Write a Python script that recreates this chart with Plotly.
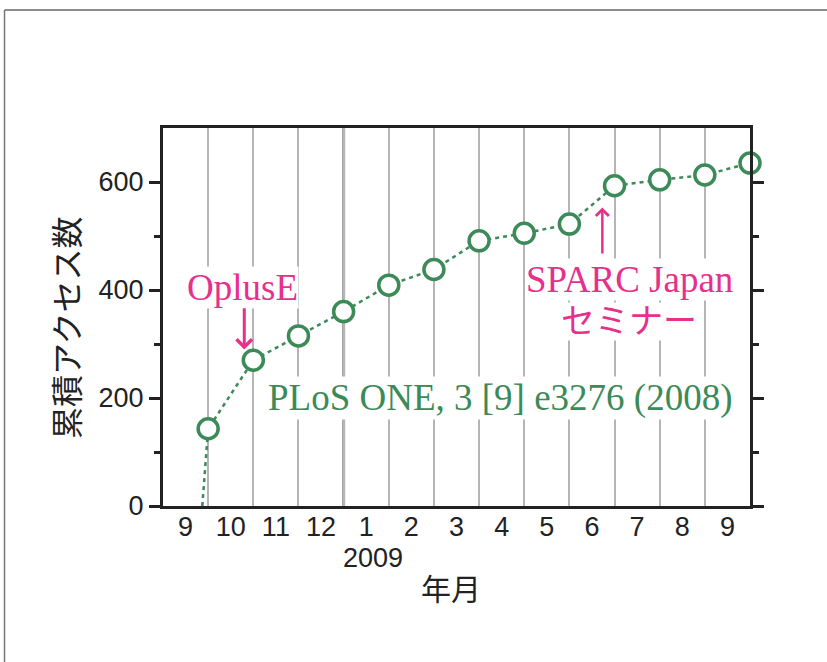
import plotly.graph_objects as go

# ---- data ----
month_labels = ["9", "10", "11", "12", "1", "2", "3", "4", "5", "6", "7", "8", "9"]
month_end_x = [1, 2, 3, 4, 5, 6, 7, 8, 9, 10, 11, 12, 13]
cumulative_access = [143, 270, 315, 360, 409, 438, 491, 505, 522, 593, 604, 613, 635]
release_x = 0.87
release_value = 0
year_label = "2009"
year_start_index = 4  # index of month "1" (January 2009)

GREEN = "#3b8a58"
PINK = "#e6308b"
DARK = "#222222"
SERIF = "Liberation Serif, Times New Roman, Noto Sans CJK JP, serif"
SANS = "Liberation Sans, Arial, Helvetica, sans-serif"
CJK = "Noto Sans CJK JP, sans-serif"

n_months = len(month_labels)
label_pos = [i + 0.5 for i in range(n_months)]
boundaries = list(range(1, n_months))

fig = go.Figure()

# dotted cumulative line (starts at publication)
fig.add_trace(go.Scatter(
    x=[release_x] + month_end_x,
    y=[release_value] + cumulative_access,
    mode="lines",
    line=dict(color=GREEN, width=2.5, dash="4px,4px"),
    hoverinfo="skip",
    showlegend=False,
))
# open circle markers
fig.add_trace(go.Scatter(
    x=month_end_x,
    y=cumulative_access,
    mode="markers",
    marker=dict(symbol="circle", size=20, color="white",
                line=dict(color=GREEN, width=3.5)),
    cliponaxis=False,
    hoverinfo="skip",
    showlegend=False,
))

# year boundary line (thicker)
fig.add_shape(type="line", xref="x", yref="paper",
              x0=year_start_index, x1=year_start_index, y0=0, y1=1,
              line=dict(color="#9a9a9a", width=3), layer="below")

# outer frame lines (top and left)
fig.add_shape(type="line", xref="paper", yref="paper",
              x0=-0.27, x1=1.2, y0=1.312, y1=1.312,
              line=dict(color="#666666", width=1.5))
fig.add_shape(type="line", xref="paper", yref="paper",
              x0=-0.27, x1=-0.27, y0=1.312, y1=-0.5,
              line=dict(color="#777777", width=1.5))

C = dict(xanchor="center", yanchor="middle", showarrow=False)
annotations = [
    # text labels
    dict(x=1.75, y=405, xref="x", yref="y", text="OplusE",
         font=dict(family=SERIF, size=37, color=PINK), bgcolor="white", borderpad=0, **C),
    dict(x=10.33, y=420, xref="x", yref="y", text="SPARC Japan",
         font=dict(family=SERIF, size=37, color=PINK), bgcolor="white", borderpad=0, **C),
    dict(x=10.33, y=342, xref="x", yref="y", text="セミナー",
         font=dict(family=SERIF, size=34, color=PINK), bgcolor="white", borderpad=0, **C),
    dict(x=7.48, y=200, xref="x", yref="y", text="PLoS ONE, 3 [9] e3276 (2008)",
         font=dict(family=SERIF, size=37, color=GREEN),
         bgcolor="white", borderpad=0, **C),
    # year label and axis titles
    dict(x=4.66, y=-0.1376, xref="x", yref="paper", text=year_label,
         font=dict(family=SANS, size=27, color=DARK), **C),
    dict(x=6.37, y=-0.214, xref="x", yref="paper", text="年月",
         font=dict(family=CJK, size=30, color=DARK), **C),
    dict(x=-0.167, y=0.471, xref="paper", yref="paper", text="累積アクセス数",
         textangle=-90, font=dict(family=CJK, size=32, color=DARK), **C),
    # arrows
    dict(x=1.8, y=290, ax=1.8, ay=369, xref="x", yref="y", axref="x", ayref="y",
         text="", showarrow=True, arrowhead=4, arrowsize=1, arrowwidth=3,
         arrowcolor=PINK),
    dict(x=9.73, y=553, ax=9.73, ay=465, xref="x", yref="y", axref="x", ayref="y",
         text="", showarrow=True, arrowhead=4, arrowsize=1, arrowwidth=2.5,
         arrowcolor=PINK),
]

fig.update_layout(
    width=827, height=662,
    margin=dict(l=163, r=77, t=128, b=156),
    paper_bgcolor="white", plot_bgcolor="white",
    annotations=annotations,
    hovermode=False,
    xaxis=dict(
        range=[0, n_months],
        tickmode="array", tickvals=label_pos, ticktext=month_labels,
        ticks="", showgrid=False, zeroline=False,
        showline=True, linecolor=DARK, linewidth=3, mirror=True,
        ticklabelstandoff=-5,
        tickfont=dict(family=SANS, size=27, color=DARK),
        minor=dict(tickmode="array", tickvals=boundaries, showgrid=True,
                   gridcolor="#b5b5b5", gridwidth=1.5, ticks=""),
    ),
    yaxis=dict(
        range=[0, 700],
        tickmode="array", tickvals=[0, 200, 400, 600],
        ticks="outside", ticklen=11, tickwidth=3, tickcolor=DARK,
        showgrid=False, zeroline=False,
        showline=True, linecolor=DARK, linewidth=3, mirror="ticks",
        tickfont=dict(family=SANS, size=27, color=DARK),
        minor=dict(tickmode="array", tickvals=[100, 300, 500], ticks="outside",
                   ticklen=6, tickwidth=3, tickcolor=DARK, showgrid=False),
    ),
)

fig.write_html("out.html", config={"displayModeBar": False},
               post_script="document.body.style.margin='0';")
